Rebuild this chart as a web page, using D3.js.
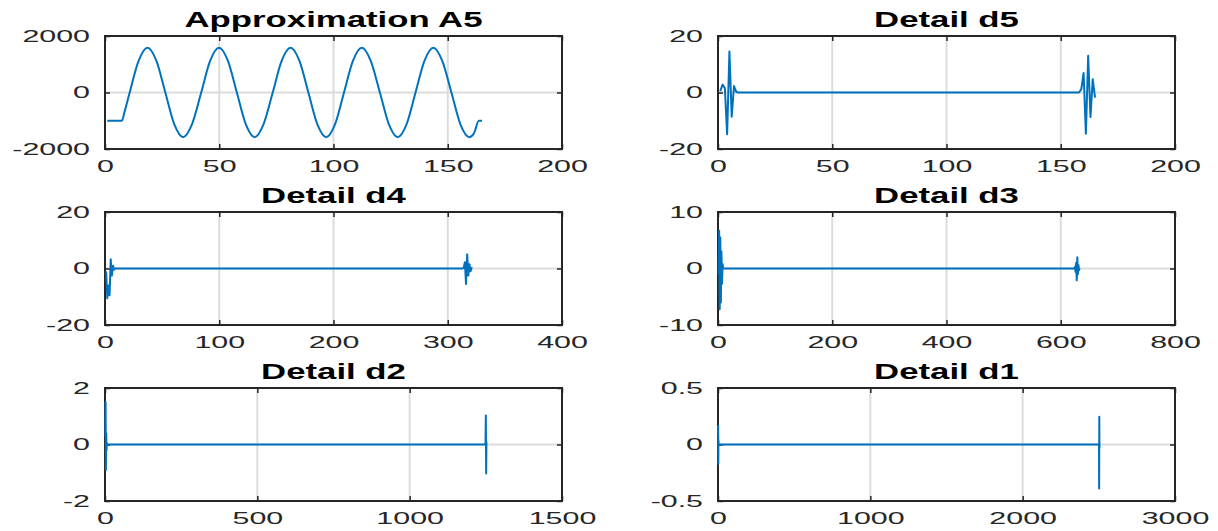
<!DOCTYPE html>
<html>
<head>
<meta charset="utf-8">
<script src="https://cdn.jsdelivr.net/npm/d3@7"></script>
<style>
  body { margin: 0; background: #fff; }
  svg { display: block; }
</style>
</head>
<body>
<svg width="1218" height="531"></svg>
<script>
// values, as [x, y] pairs
const a5Points = [
  [1, -1000], [4, -1000], [7.4, -1000], [8.5, -700], [10.8, 0], [14.7, 1117], [18.6, 1580],
  [22.5, 1117], [26.4, 0], [30.3, -1117], [34.2, -1580], [38.1, -1117], [42.1, 0],
  [46, 1117], [49.9, 1580], [53.8, 1117], [57.7, 0], [61.6, -1117], [65.5, -1580],
  [69.4, -1117], [73.4, 0], [77.3, 1117], [81.2, 1580], [85.1, 1117], [89, 0],
  [92.9, -1117], [96.8, -1580], [100.7, -1117], [104.6, 0], [108.5, 1117], [112.4, 1580],
  [116.3, 1117], [120.3, 0], [124.2, -1117], [128.1, -1580], [132, -1117], [135.9, 0],
  [139.8, 1117], [143.7, 1580], [147.6, 1117], [151.6, 0], [155.5, -1117], [159.4, -1580],
  [161.5, -1440], [163.6, -1000], [165, -1000]
];
const d5Points = [
  [1, 0.5], [2, 2.8], [3, 1.6], [4, -14.8], [5, 14.5], [6, -8.6], [7, 2.3], [8, 0.2], [9, 0],
  [158, 0], [159, 1.2], [160, 6.9], [161, -14.6], [162, 13], [163, -8.7], [164, 4.7], [165, -1.8]
];
const d4Points = [
  [1, -1], [2, -10.5], [3, -6], [4, -9.5], [5, 3.3], [6, -2.5], [7, 1], [8, -0.4], [9, 0],
  [313, 0], [314, 0.3], [315, 2.2], [316, -5.5], [317, 5], [318, -2.5], [319, 1.5], [320, -1], [321, 0.5]
];
const d3Points = [
  [1, -1], [2, 6.7], [3, -7.2], [4, 5.5], [5, -6], [6, 3], [7, -2.7], [8, 0.8], [9, 0],
  [624, 0], [625, 0.3], [626, -0.6], [627, 1], [628, -2.1], [629, 2], [630, -1], [631, 0.6],
  [632, -0.3], [633, 0.1]
];
const d2Points = [
  [1, 0.3], [2, 1.5], [3, -0.9], [4, 0.4], [5, -0.2], [6, 0.05], [7, 0],
  [1248, 0], [1249, 0.05], [1250, 1.03], [1251, -1.03], [1252, 0.1]
];
const d1Points = [
  [1, 0.17], [2, -0.17], [3, 0.04], [4, 0],
  [2500, 0], [2501, 0.01], [2502, -0.39], [2503, 0.245], [2504, -0.03], [2505, 0]
];

const titles = ["Approximation A5", "Detail d5", "Detail d4", "Detail d3", "Detail d2", "Detail d1"];
const xTicks = [
  [0, 50, 100, 150, 200],
  [0, 50, 100, 150, 200],
  [0, 100, 200, 300, 400],
  [0, 200, 400, 600, 800],
  [0, 500, 1000, 1500],
  [0, 1000, 2000, 3000]
];
const yTicks = [
  [-2000, 0, 2000],
  [-20, 0, 20],
  [-20, 0, 20],
  [-10, 0, 10],
  [-2, 0, 2],
  [-0.5, 0, 0.5]
];
const allPoints = [a5Points, d5Points, d4Points, d3Points, d2Points, d1Points];

const FONT = "'Liberation Sans', Arial, Helvetica, sans-serif";
const TICK_SX = 1.9;   // the picture's text is stretched sideways
const TITLE_SX = 1.58;
const panelW = 457, panelH = 113;
const colX = [105, 718];
const rowY = [36, 212, 388];

const svg = d3.select("svg");

allPoints.forEach((points, i) => {
  const left = colX[i % 2];
  const top = rowY[Math.floor(i / 2)];
  const g = svg.append("g").attr("transform", `translate(${left},${top})`);

  const x = d3.scaleLinear().domain(d3.extent(xTicks[i])).range([0, panelW]);
  const y = d3.scaleLinear().domain(d3.extent(yTicks[i])).range([panelH, 0]);

  // grid
  g.append("g")
    .selectAll("line")
    .data(xTicks[i])
    .join("line")
    .attr("x1", (d) => x(d))
    .attr("x2", (d) => x(d))
    .attr("y1", 0)
    .attr("y2", panelH)
    .attr("stroke", "#dcdcdc")
    .attr("stroke-width", 2);
  g.append("g")
    .selectAll("line")
    .data(yTicks[i])
    .join("line")
    .attr("x1", 0)
    .attr("x2", panelW)
    .attr("y1", (d) => y(d))
    .attr("y2", (d) => y(d))
    .attr("stroke", "#dcdcdc")
    .attr("stroke-width", 2);

  // box
  g.append("rect")
    .attr("width", panelW)
    .attr("height", panelH)
    .attr("fill", "none")
    .attr("stroke", "#262626")
    .attr("stroke-width", 2);

  // ticks pointing inward on all four sides
  const fmt = (d) => String(d);
  const gx = g.append("g")
    .attr("transform", `translate(0,${panelH})`)
    .call(d3.axisBottom(x).tickValues(xTicks[i]).tickFormat(fmt).tickSizeInner(-5).tickSizeOuter(0));
  const gy = g.append("g")
    .call(d3.axisLeft(y).tickValues(yTicks[i]).tickFormat(fmt).tickSizeInner(-5).tickSizeOuter(0));
  const gt = g.append("g")
    .call(d3.axisTop(x).tickValues(xTicks[i]).tickFormat("").tickSizeInner(-5).tickSizeOuter(0));
  const gr = g.append("g")
    .attr("transform", `translate(${panelW},0)`)
    .call(d3.axisRight(y).tickValues(yTicks[i]).tickFormat("").tickSizeInner(-5).tickSizeOuter(0));

  [gx, gy, gt, gr].forEach((a) => {
    a.select(".domain").remove();
    a.selectAll("line").attr("stroke", "#262626").attr("stroke-width", 1.5);
    a.attr("font-size", 16).attr("font-family", FONT);
  });

  gx.selectAll("text")
    .attr("y", 0)
    .attr("dy", null)
    .attr("fill", "#262626")
    .attr("transform", `translate(0,23) scale(${TICK_SX},1)`);
  gy.selectAll("text")
    .attr("x", 0)
    .attr("dy", "0.34em")
    .attr("fill", "#262626")
    .attr("transform", `translate(-15,0) scale(${TICK_SX},1)`);

  // the signal, drawn over the box like the reference
  const line = d3
    .line()
    .x((d) => x(d[0]))
    .y((d) => y(d[1]))
    .curve(i === 0 ? d3.curveMonotoneX : d3.curveLinear);
  g.append("path")
    .datum(points)
    .attr("d", line)
    .attr("fill", "none")
    .attr("stroke", "#0072BD")
    .attr("stroke-width", 2)
    .attr("stroke-linejoin", "round");

  // title
  g.append("text")
    .attr("transform", `translate(${panelW / 2},-9) scale(${TITLE_SX},1)`)
    .attr("text-anchor", "middle")
    .attr("font-family", FONT)
    .attr("font-size", 22)
    .attr("font-weight", "bold")
    .attr("fill", "#000")
    .text(titles[i]);
});
</script>
</body>
</html>
